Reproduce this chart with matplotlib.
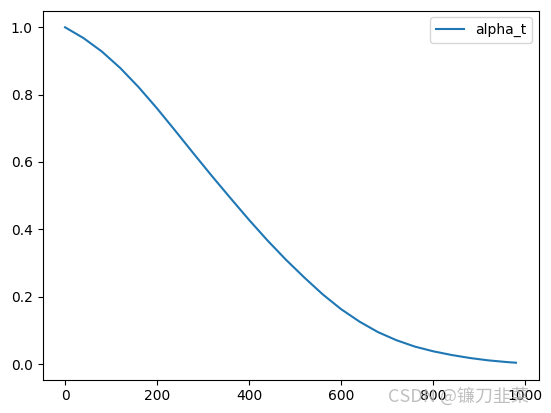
import matplotlib
matplotlib.use("Agg")
import matplotlib.pyplot as plt

# values
t_vals = [0, 40, 80, 120, 160, 200, 240, 280, 320, 360, 400, 440, 480, 520,
          560, 600, 640, 680, 720, 760, 800, 840, 880, 920, 960, 980]
alpha_vals = [1.000, 0.968, 0.928, 0.879, 0.822, 0.759, 0.692, 0.624, 0.557,
              0.492, 0.428, 0.367, 0.310, 0.257, 0.207, 0.163, 0.126, 0.095,
              0.071, 0.052, 0.038, 0.027, 0.018, 0.011, 0.006, 0.004]

W, H = 551, 413
fig = plt.figure(figsize=(W / 100, H / 100), dpi=100)
ax = fig.add_axes([42.5 / W, (H - 379.5) / H, 496 / W, 369 / H])
ax.plot(t_vals, alpha_vals, label="alpha_t")
ax.legend(loc="upper right")

fig.text(458 / W, 1 - 396 / H, "CSDN @镰刀韭菜", ha="center", va="center",
         fontsize=13, color="#b0b0b0", alpha=0.8,
         family=["Noto Sans CJK SC", "DejaVu Sans"])

fig.savefig("out.png", dpi=100)
